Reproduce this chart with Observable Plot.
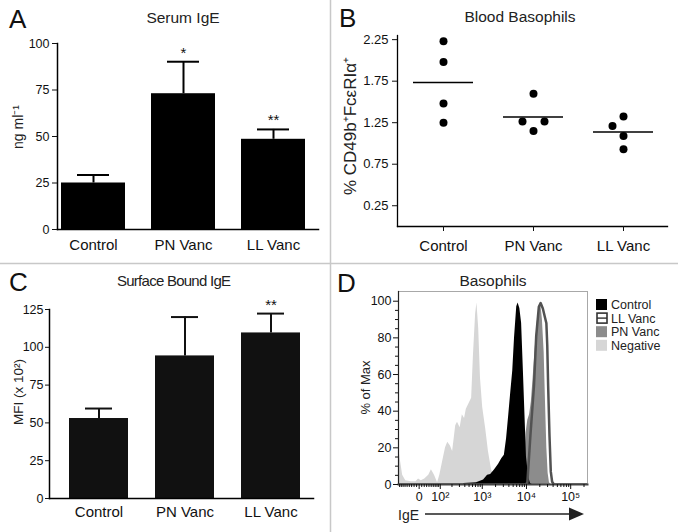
<!DOCTYPE html>
<html><head><meta charset="utf-8">
<script src="https://cdn.jsdelivr.net/npm/d3@7"></script>
<script src="https://cdn.jsdelivr.net/npm/@observablehq/plot@0.6"></script>
<style>
html,body{margin:0;padding:0;background:#fff;}
#fig{position:relative;width:678px;height:532px;overflow:hidden;background:#fff;font-family:'Liberation Sans',Arial,Helvetica,sans-serif;color:#111;}
#fig > svg{position:absolute;}
</style></head><body><div id="fig"></div>
<script>
// ---------- data ----------
const groups = ["Control", "PN Vanc", "LL Vanc"];
// A: Serum IgE (ng/ml), mean and SEM
const serumMean = [25, 73, 48.5];
const serumSem = [4.3, 17.2, 5.3];
const serumSig = ["", "*", "**"];
const serumTicks = [0, 25, 50, 75, 100];
// B: Blood basophils, % CD49b+ FcεRIα+
const basoControl = [2.23, 1.98, 1.48, 1.25];
const basoPN = [1.60, 1.265, 1.265, 1.15];
const basoLL = [1.325, 1.21, 1.09, 0.93];
const basoTicks = [0.25, 0.75, 1.25, 1.75, 2.25];
// C: Surface bound IgE, MFI (x 10^2)
const mfiMean = [52.9, 94.3, 109.5];
const mfiSem = [6.6, 25.7, 12.8];
const mfiSig = ["", "", "**"];
const mfiTicks = [0, 25, 50, 75, 100, 125];
// D: Basophil IgE histograms (x = display channel in decades, y = % of max)
const histSeries = ["Control", "LL Vanc", "PN Vanc", "Negative"];
const negChannel = [1.11,1.15,1.20,1.27,1.40,1.50,1.56,1.62,1.70,1.79,1.85,1.92,1.99,2.04,2.10,2.17,2.22,2.28,2.33,2.40,2.44,2.50,2.55,2.60,2.64,2.70,2.76,2.80,2.85,2.88,2.92,2.96,3.01,3.08,3.14,3.21,3.28,3.35,3.41];
const negPct =     [20,13,5,2,1.5,1.5,3,2,3,5,8,5,1,5,12,20,23,21,18,32,34,31,38,36,41,44,47,70,93,99,85,58,42,30,18,8,3,0.5,0];
const ctrlChannel = [2.58,2.87,3.03,3.12,3.19,3.28,3.37,3.44,3.50,3.55,3.60,3.64,3.69,3.73,3.78,3.81,3.85,3.89,3.93,3.97,4.00,4.05,4.09,4.13];
const ctrlPct =     [0.5,1,2.5,5,5.5,8,11,14,16,25,38,49,62,80,97,99,96,88,62,35,15,4,0.5,0];
const pnChannel = [3.89,3.93,3.96,3.99,4.03,4.07,4.11,4.15,4.20,4.25,4.30,4.33,4.36,4.40,4.43,4.46,4.49,4.52,4.55];
const pnPct =     [0,3,15,28,35,38,45,58,75,90,97,97,90,72,45,20,6,1,0];
const llChannel = [1.11,3.98,4.02,4.09,4.17,4.22,4.28,4.32,4.37,4.42,4.45,4.47,4.49,4.52,4.55,4.58,4.62,5.38];
const llPct =     [0,0,1,27,54,81,97,99,96,91,88,76,54,27,7,1.5,0,0];
const igeTickValues = [0, 100, 1000, 10000, 100000];
const igeTickLabels = ["0", "10²", "10³", "10⁴", "10⁵"];
const igeMinorValues = [-90,-80,-70,-60,-50,-40,-30,-20,-10,10,20,30,40,50,60,70,80,90,200,300,400,500,600,700,800,900,2000,3000,4000,5000,6000,7000,8000,9000,20000,30000,40000,50000,60000,70000,80000,90000,200000];
const pctTicks = [0, 20, 40, 60, 80, 100];

// ---------- helpers ----------
const FONT = "'Liberation Sans', Arial, Helvetica, sans-serif";
const fig = document.getElementById("fig");
function place(svg, left, top) {
  svg.style.left = left + "px"; svg.style.top = top + "px";
  fig.appendChild(svg);
}
const baseStyle = {fontFamily: FONT, fontSize: "12px", color: "#111", background: "transparent", overflow: "visible"};

// ---------- Panel A ----------
const serum = groups.map((g, i) => ({group: g, mean: serumMean[i], top: serumMean[i] + serumSem[i], sig: serumSig[i]}));
const plotA = Plot.plot({
  width: 330, height: 264, marginLeft: 57, marginRight: 12, marginTop: 43, marginBottom: 35,
  style: baseStyle,
  x: {domain: groups, range: [60, 305], paddingInner: 0.293, paddingOuter: 0},
  y: {domain: [0, 100]},
  marks: [
    Plot.barY(serum, {x: "group", y: "mean", fill: "#000"}),
    Plot.ruleX(serum, {x: "group", y1: "mean", y2: "top", stroke: "#000", strokeWidth: 2}),
    Plot.tickY(serum, {x: "group", y: "top", stroke: "#000", strokeWidth: 2, insetLeft: 16, insetRight: 16}),
    Plot.text(serum, {x: "group", y: "top", text: "sig", fontSize: 15, lineAnchor: "bottom", dy: -4}),
    Plot.frame({anchor: "left", stroke: "#000", strokeWidth: 1.5}),
    Plot.frame({anchor: "bottom", stroke: "#000", strokeWidth: 1.5}),
    Plot.axisY({ticks: serumTicks, tickSize: 5, tickPadding: 3, fontSize: 12.5, label: null}),
    Plot.axisX({tickSize: 0, tickPadding: 10, fontSize: 15, label: null})
  ]
});
place(plotA, 0, 0);

// ---------- Panel B ----------
const bW = 348, bH = 264, bTop = 35, bBottom = 38;
const bDomain = [0, 2.3];
const pxPerUnit = (bH - bTop - bBottom) / (bDomain[1] - bDomain[0]);
function swarm(values, diam, step) {
  const order = d3.range(values.length).sort((a, b) => values[a] - values[b]);
  const placed = [], off = new Array(values.length);
  for (const i of order) {
    const y = values[i] * pxPerUnit;
    for (let k = 0; ; k++) {
      const c = k === 0 ? 0 : (k % 2 ? -1 : 1) * Math.ceil(k / 2) * step;
      if (placed.every(p => Math.hypot(p.x - c, p.y - y) >= diam)) { off[i] = c; placed.push({x: c, y}); break; }
    }
  }
  return off;
}
const basoSets = [basoControl, basoPN, basoLL];
const basoPoints = [];
basoSets.forEach((vals, gi) => {
  const offs = swarm(vals, 11, 11);
  vals.forEach((v, j) => basoPoints.push({group: groups[gi], value: v, off: offs[j]}));
});
const basoMeans = groups.map((g, i) => ({group: g, mean: d3.mean(basoSets[i])}));
const offsets = Array.from(new Set(basoPoints.map(d => d.off)));
const plotB = Plot.plot({
  width: bW, height: bH, marginLeft: 67, marginRight: 11, marginTop: bTop, marginBottom: bBottom,
  style: baseStyle,
  x: {domain: groups, range: [83, 323], paddingInner: 1 / 3, paddingOuter: 0},
  y: {domain: bDomain},
  marks: [
    ...offsets.map(o => Plot.dot(basoPoints.filter(d => d.off === o), {x: "group", y: "value", r: 4, fill: "#000", stroke: "none", dx: o})),
    Plot.tickY(basoMeans, {x: "group", y: "mean", stroke: "#000", strokeWidth: 1.5}),
    Plot.frame({anchor: "left", stroke: "#000", strokeWidth: 1.3}),
    Plot.frame({anchor: "bottom", stroke: "#000", strokeWidth: 1.3}),
    Plot.axisY({ticks: basoTicks, tickFormat: d3.format(".2f"), tickSize: 5, tickPadding: 4, fontSize: 13, label: null}),
    Plot.axisX({tickSize: 5, tickPadding: 9, fontSize: 15, label: null})
  ]
});
place(plotB, 330, 0);

// ---------- Panel C ----------
const mfi = groups.map((g, i) => ({group: g, mean: mfiMean[i], top: mfiMean[i] + mfiSem[i], sig: mfiSig[i]}));
const plotC = Plot.plot({
  width: 330, height: 268, marginLeft: 49, marginRight: 17, marginTop: 45, marginBottom: 34,
  style: baseStyle,
  x: {domain: groups, range: [68, 302], paddingInner: 0.31, paddingOuter: 0},
  y: {domain: [0, 125]},
  marks: [
    Plot.barY(mfi, {x: "group", y: "mean", fill: "#111"}),
    Plot.ruleX(mfi, {x: "group", y1: "mean", y2: "top", stroke: "#111", strokeWidth: 2}),
    Plot.tickY(mfi, {x: "group", y: "top", stroke: "#111", strokeWidth: 2, insetLeft: 16, insetRight: 16}),
    Plot.text(mfi, {x: "group", y: "top", text: "sig", fontSize: 15, lineAnchor: "bottom", dy: -4}),
    Plot.frame({anchor: "left", stroke: "#000", strokeWidth: 1.5}),
    Plot.frame({anchor: "bottom", stroke: "#000", strokeWidth: 1.5}),
    Plot.axisY({ticks: mfiTicks, tickSize: 4, tickPadding: 2, fontSize: 12.5, label: null}),
    Plot.axisX({tickSize: 0, tickPadding: 8, fontSize: 15, label: null})
  ]
});
place(plotC, 0, 264);

// ---------- Panel D ----------
const LC = 37.4; // biexponential (logicle-like) width constant
const logicle = v => Math.asinh(v / (2 * LC)) / Math.LN10 + Math.log10(LC);
const mk = (ch, pc) => ch.map((u, i) => ({u, pct: pc[i]}));
const negData = mk(negChannel, negPct), ctrlData = mk(ctrlChannel, ctrlPct), pnData = mk(pnChannel, pnPct), llData = mk(llChannel, llPct);
const xDomainD = [1.106, 5.38];
const majorU = igeTickValues.map(logicle);
const labelByU = new Map(majorU.map((u, i) => [u, igeTickLabels[i]]));
const minorU = igeMinorValues.map(logicle).filter(u => u > xDomainD[0] && u < xDomainD[1]);
const minorPct = d3.range(5, 100, 5).filter(v => v % 20 !== 0);
const plotD = Plot.plot({
  width: 348, height: 268, marginLeft: 68, marginRight: 91, marginTop: 27, marginBottom: 48,
  style: baseStyle,
  x: {type: "linear", domain: xDomainD},
  y: {domain: [0, 105.3]},
  marks: [
    Plot.areaY(negData, {x: "u", y: "pct", fill: "#d6d6d6", clip: true}),
    Plot.areaY(pnData, {x: "u", y: "pct", fill: "#8c8c8c", clip: true}),
    Plot.areaY(ctrlData, {x: "u", y: "pct", fill: "#000", clip: true}),
    Plot.lineY(llData, {x: "u", y: "pct", stroke: "#525252", strokeWidth: 2.5, clip: true}),
    Plot.frame({stroke: "#a8a8a8", strokeWidth: 1}),
    Plot.frame({anchor: "left", stroke: "#222", strokeWidth: 1.2}),
    Plot.frame({anchor: "bottom", stroke: "#444", strokeWidth: 2}),
    Plot.axisY({ticks: pctTicks, tickSize: 5, tickPadding: 2, fontSize: 12.5, label: null}),
    Plot.axisY({ticks: minorPct, tickSize: 3, tickFormat: () => "", label: null}),
    Plot.axisX({ticks: majorU, tickSize: 5, tickPadding: 3, fontSize: 12.5, tickFormat: u => labelByU.get(u), label: null}),
    Plot.axisX({ticks: minorU, tickSize: 3, tickFormat: () => "", label: null})
  ]
});
place(plotD, 330, 264);

// ---------- overlay: dividers, panel letters, titles, axis titles, legend, IgE arrow ----------
const NS = "http://www.w3.org/2000/svg";
const ov = document.createElementNS(NS, "svg");
ov.setAttribute("width", 678); ov.setAttribute("height", 532);
ov.style.left = "0px"; ov.style.top = "0px"; ov.style.pointerEvents = "none";
ov.setAttribute("font-family", FONT);
function el(tag, attrs, text) {
  const e = document.createElementNS(NS, tag);
  for (const k in attrs) e.setAttribute(k, attrs[k]);
  if (text != null) e.textContent = text;
  ov.appendChild(e); return e;
}
el("line", {x1: 330.5, x2: 330.5, y1: 0, y2: 532, stroke: "#c8c8c8", "stroke-width": 1.5});
el("line", {x1: 0, x2: 678, y1: 263.5, y2: 263.5, stroke: "#c8c8c8", "stroke-width": 1.5});
const letters = [["A", 9, 28], ["B", 339, 27], ["C", 9, 291], ["D", 337, 292]];
for (const [t, x, y] of letters) el("text", {x, y, "font-size": 26, fill: "#111"}, t);
const titles = [["Serum IgE", 183, 22.5, 15.5, null], ["Blood Basophils", 520, 21.5, 15.5, null], ["Surface Bound IgE", 174, 285.5, 15, 114], ["Basophils", 493, 285.5, 15.5, null]];
for (const [t, x, y, fs, len] of titles) {
  const a = {x, y, "font-size": fs, "text-anchor": "middle", fill: "#222"};
  if (len) { a.textLength = len; a.lengthAdjust = "spacing"; }
  el("text", a, t);
}
// rotated y-axis titles
const yTitles = [["ng ml⁻¹", 22.5, 127, 14], ["% CD49b⁺FcεRIα⁺", 355.5, 126, 17], ["MFI (x 10²)", 22.5, 392, 13.5], ["% of Max", 369.5, 387.5, 13]];
for (const [t, x, y, fs] of yTitles) {
  el("text", {x, y, "font-size": fs, "text-anchor": "middle", fill: "#222", transform: `rotate(-90 ${x} ${y})`}, t);
}
// legend
const legendFill = {"Control": "#000", "LL Vanc": "#fff", "PN Vanc": "#8c8c8c", "Negative": "#d6d6d6"};
histSeries.forEach((s, i) => {
  const cy = 304.5 + i * 13.6;
  if (s === "LL Vanc") {
    el("rect", {x: 597, y: cy - 5, width: 10, height: 10, fill: "#fff", stroke: "#333", "stroke-width": 1.6});
    el("line", {x1: 597, x2: 607, y1: cy, y2: cy, stroke: "#333", "stroke-width": 1.4});
  } else {
    el("rect", {x: 596, y: cy - 5.5, width: 11, height: 11, fill: legendFill[s]});
  }
  el("text", {x: 611, y: cy + 4.5, "font-size": 12.5, fill: "#222"}, s);
});
el("text", {x: 398, y: 520, "font-size": 14, fill: "#222"}, "IgE");
el("line", {x1: 425, x2: 572, y1: 514, y2: 514, stroke: "#222", "stroke-width": 1.5});
el("path", {d: "M569,507.5 L584,514 L569,520.5 Z", fill: "#222"});
fig.appendChild(ov);
</script></body></html>
